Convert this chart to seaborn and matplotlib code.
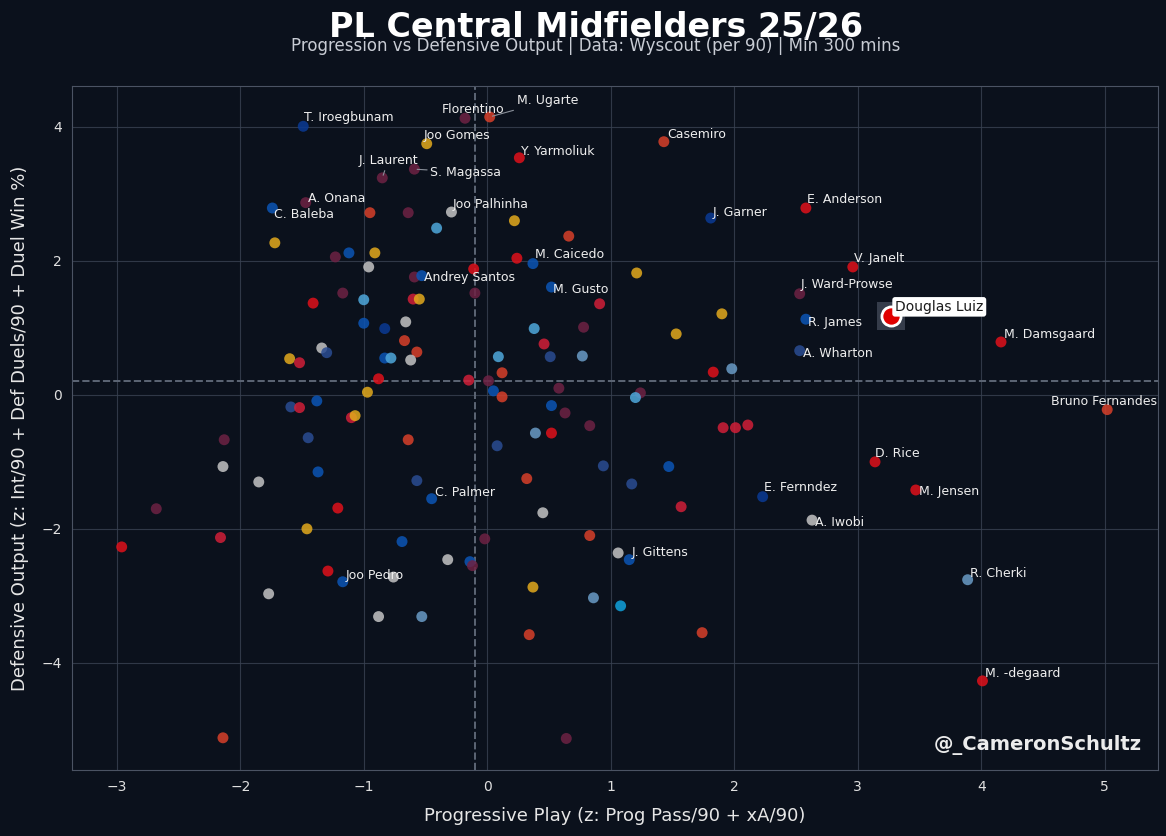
import numpy as np
import pandas as pd
import matplotlib.pyplot as plt
import seaborn as sns

# ---------------------------------------------------------
# DATA
# ---------------------------------------------------------

players = [
    "T. Iroegbunam", "Florentino", "M. Ugarte", "Joo Gomes", "Casemiro", "Y. Yarmoliuk",
    "J. Laurent", "S. Magassa", "A. Onana", "C. Baleba", "", "",
    "Joo Palhinha", "", "", "", "", "",
    "", "", "Andrey Santos", "", "", "",
    "", "", "", "", "", "",
    "", "", "", "", "", "",
    "", "", "", "", "", "M. Caicedo",
    "", "", "", "", "", "M. Gusto",
    "", "J. Garner", "E. Anderson", "J. Ward-Prowse", "", "",
    "R. James", "A. Wharton", "", "", "", "",
    "", "", "", "", "", "",
    "V. Janelt", "M. Damsgaard", "Bruno Fernandes", "", "", "",
    "", "", "", "", "", "",
    "", "", "", "", "", "",
    "", "C. Palmer", "", "", "", "",
    "", "", "", "", "", "",
    "", "Joo Pedro", "", "", "", "",
    "", "", "", "", "", "",
    "", "", "", "", "", "",
    "", "", "", "", "", "",
    "E. Fernndez", "A. Iwobi", "", "", "J. Gittens", "",
    "", "", "", "", "",
    "D. Rice", "M. Jensen", "R. Cherki", "M. -degaard",
]

prog_z = [
    -1.49, -0.18, 0.02, -0.49, 1.43, 0.26,
    -0.85, -0.59, -1.47, -1.74, -0.95, -0.64,
    -0.29, -0.41, -1.72, -1.23, -1.12, -0.91,
    -0.96, -0.59, -0.53, -1.17, -1.41, -1.00,
    -0.60, -0.55, -1.00, -0.83, -0.66, -0.67,
    -0.57, -0.62, -0.83, -0.78, -1.34, -1.30,
    -1.60, -1.52, -0.88, -0.15, 0.24, 0.37,
    -0.11, 0.22, 0.66, 1.21, -0.10, 0.52,
    0.91, 1.81, 2.58, 2.53, 1.90, 1.53,
    2.58, 2.53, 0.38, 0.78, 0.46, 0.09,
    0.51, 0.77, 0.12, 1.83, 1.98, 0.01,
    2.96, 4.16, 5.02, 1.91, 2.01, 2.11,
    -0.97, -1.59, -1.52, -1.38, -1.10, -1.07,
    -2.13, -1.45, -0.64, -2.14, -1.37, -1.85,
    -0.57, -0.45, -2.68, -1.21, -2.96, -2.16,
    -1.46, -0.69, -0.32, -0.14, -0.12, -0.02,
    -1.29, -1.17, -0.76, -1.77, -0.88, -0.53,
    -2.14, 0.05, 0.12, 0.58, 1.24, 1.20,
    0.52, 0.63, 0.83, 0.39, 0.52, 0.08,
    0.94, 1.47, 1.17, 0.32, 1.57, 0.45,
    2.23, 2.63, 0.83, 1.06, 1.15, 0.37,
    0.86, 1.08, 0.34, 1.74, 0.64,
    3.14, 3.47, 3.89, 4.01,
]

def_z = [
    4.01, 4.13, 4.15, 3.75, 3.78, 3.54,
    3.24, 3.37, 2.87, 2.79, 2.72, 2.72,
    2.73, 2.49, 2.27, 2.06, 2.12, 2.12,
    1.91, 1.76, 1.78, 1.52, 1.37, 1.42,
    1.43, 1.43, 1.07, 0.99, 1.09, 0.81,
    0.64, 0.52, 0.55, 0.55, 0.70, 0.63,
    0.54, 0.48, 0.24, 0.22, 2.04, 1.96,
    1.88, 2.60, 2.37, 1.82, 1.52, 1.61,
    1.36, 2.64, 2.79, 1.51, 1.21, 0.91,
    1.13, 0.66, 0.99, 1.01, 0.76, 0.57,
    0.57, 0.58, 0.33, 0.34, 0.39, 0.21,
    1.91, 0.79, -0.22, -0.49, -0.49, -0.45,
    0.04, -0.18, -0.19, -0.09, -0.34, -0.31,
    -0.67, -0.64, -0.67, -1.07, -1.15, -1.30,
    -1.28, -1.55, -1.70, -1.69, -2.27, -2.13,
    -2.00, -2.19, -2.46, -2.49, -2.55, -2.15,
    -2.63, -2.79, -2.72, -2.97, -3.31, -3.31,
    -5.12, 0.06, -0.03, 0.10, 0.03, -0.04,
    -0.16, -0.27, -0.46, -0.57, -0.57, -0.76,
    -1.06, -1.07, -1.33, -1.25, -1.67, -1.76,
    -1.52, -1.87, -2.10, -2.36, -2.46, -2.87,
    -3.03, -3.15, -3.58, -3.55, -5.13,
    -1.00, -1.42, -2.76, -4.27,
]

# club colour group of each dot
club_group = [
    "navy", "claret", "orange", "gold", "orange", "red",
    "claret", "claret", "claret", "royal", "orange", "claret",
    "grey", "sky", "gold", "claret", "royal", "gold",
    "grey", "claret", "royal", "claret", "red", "sky",
    "crimson", "gold", "royal", "navy", "grey", "orange",
    "orange", "grey", "royal", "sky", "grey", "slate",
    "gold", "crimson", "red", "crimson", "red", "royal",
    "red", "gold", "orange", "gold", "claret", "royal",
    "crimson", "navy", "red", "claret", "gold", "gold",
    "royal", "slate", "sky", "claret", "crimson", "sky",
    "slate", "steel", "orange", "red", "steel", "claret",
    "red", "red", "orange", "crimson", "crimson", "crimson",
    "gold", "slate", "crimson", "royal", "crimson", "gold",
    "claret", "slate", "orange", "grey", "royal", "grey",
    "slate", "royal", "claret", "red", "red", "crimson",
    "gold", "royal", "grey", "royal", "claret", "claret",
    "red", "royal", "grey", "grey", "grey", "steel",
    "orange", "royal", "orange", "claret", "claret", "sky",
    "royal", "claret", "claret", "steel", "red", "slate",
    "slate", "royal", "slate", "orange", "crimson", "grey",
    "navy", "grey", "orange", "grey", "royal", "gold",
    "steel", "cyan", "orange", "orange", "claret",
    "red", "red", "steel", "red",
]

club_colours = {
    "red": "#e0101a", "crimson": "#d11f38", "orange": "#d8402a",
    "navy": "#0a3a94", "royal": "#0b55b5", "slate": "#2a4c92",
    "sky": "#4fa8dc", "steel": "#6a9cc6", "cyan": "#10a2dc",
    "gold": "#e3aa1c", "grey": "#c4c4c4", "claret": "#6e2244",
}

highlight_player = "Douglas Luiz"
highlight_xy = (3.27, 1.18)

x_mean = -0.10
y_mean = 0.21

# label placement (pixel offsets from the dot)
label_offsets = {
    "T. Iroegbunam": (1, 9), "Florentino": (-23, 9), "M. Ugarte": (27, 16),
    "Joo Gomes": (-3, 8), "Casemiro": (3, 7), "Y. Yarmoliuk": (2, 6),
    "J. Laurent": (-24, 17), "S. Magassa": (16, -3), "A. Onana": (2, 4),
    "C. Baleba": (2, -6), "Joo Palhinha": (1, 8), "Andrey Santos": (2, -2),
    "M. Caicedo": (2, 9), "M. Gusto": (2, -2), "J. Garner": (2, 6),
    "E. Anderson": (1, 9), "V. Janelt": (1, 8), "J. Ward-Prowse": (1, 9),
    "R. James": (2, -3), "A. Wharton": (3, -3), "M. Damsgaard": (3, 7),
    "Bruno Fernandes": (-56, 8), "D. Rice": (0, 8), "M. Jensen": (3, -2),
    "E. Fernndez": (1, 9), "A. Iwobi": (3, -2), "C. Palmer": (3, 6),
    "J. Gittens": (2, 7), "Joo Pedro": (3, 6), "R. Cherki": (2, 6),
    "M. -degaard": (3, 7),
}
with_leader = ["M. Ugarte", "J. Laurent", "S. Magassa"]

df = pd.DataFrame({"Player": players, "Prog": prog_z, "Def": def_z, "Club": club_group})

# ---------------------------------------------------------
# PLOT
# ---------------------------------------------------------

BG = "#0b111c"
sns.set_style("dark", {
    "axes.facecolor": BG, "figure.facecolor": BG, "axes.edgecolor": "#4b5363",
    "grid.color": "#3a4252", "text.color": "#e6e6e6", "xtick.color": "#e0e0e0",
    "ytick.color": "#e0e0e0", "axes.labelcolor": "#e6e6e6",
})
plt.rcParams["font.family"] = ["DejaVu Sans"]

fig, ax = plt.subplots(figsize=(11.66, 8.36), dpi=100)
fig.subplots_adjust(left=0.062, right=0.993, top=0.897, bottom=0.079)

sns.scatterplot(data=df, x="Prog", y="Def", hue="Club", palette=club_colours,
                s=62, alpha=0.85, linewidth=0, legend=False, ax=ax, zorder=3)

ax.axvline(x_mean, color="#5d6675", linestyle="--", linewidth=1.4, zorder=2)
ax.axhline(y_mean, color="#5d6675", linestyle="--", linewidth=1.4, zorder=2)

# labels
for _, row in df[df["Player"] != ""].iterrows():
    dx, dy = label_offsets.get(row["Player"], (2, 6))
    arrow = None
    if row["Player"] in with_leader:
        arrow = dict(arrowstyle="-", color="#8a909a", lw=0.8, shrinkA=0, shrinkB=2)
    ax.annotate(row["Player"], (row["Prog"], row["Def"]), xytext=(dx, dy),
                textcoords="offset pixels", ha="left", va="center",
                fontsize=9, color="#eeeeee", arrowprops=arrow, zorder=5)

# highlighted player
ax.scatter([highlight_xy[0]], [highlight_xy[1]], marker="s", s=420,
           color="#3a4150", alpha=0.9, zorder=4, linewidth=0)
ax.scatter([highlight_xy[0]], [highlight_xy[1]], s=190, color="#e00000",
           edgecolor="white", linewidth=2, zorder=6)
ax.annotate(highlight_player, highlight_xy, xytext=(4, 9), textcoords="offset pixels",
            ha="left", va="center", fontsize=10, color="#1a1a1a", zorder=7,
            bbox=dict(boxstyle="round,pad=0.2", fc="white", ec="none"))

ax.set_xlim(-3.36, 5.43)
ax.set_ylim(-5.6, 4.61)
ax.set_xticks(range(-3, 6))
ax.set_yticks([-4, -2, 0, 2, 4])
ax.grid(True, color="#3a4252", linewidth=0.8, alpha=0.8)
ax.tick_params(axis="both", labelsize=10, length=4, colors="#e0e0e0")
for sp in ax.spines.values():
    sp.set_color("#4b5363")

ax.set_xlabel("Progressive Play (z: Prog Pass/90 + xA/90)", fontsize=13, labelpad=9)
ax.set_ylabel("Defensive Output (z: Int/90 + Def Duels/90 + Duel Win %)", fontsize=13, labelpad=9)

ax.text(0.985, 0.022, "@_CameronSchultz", transform=ax.transAxes, ha="right",
        va="bottom", fontsize=14, fontweight="bold", color="#ececec", zorder=8)

fig.text(0.511, 0.956, "PL Central Midfielders 25/26", ha="center", va="baseline",
         fontsize=24, fontweight="bold", color="white")
fig.text(0.511, 0.945, "Progression vs Defensive Output | Data: Wyscout (per 90) | Min 300 mins",
         ha="center", va="center", fontsize=12, color="#c8ccd4")

plt.savefig("out.png", dpi=100, facecolor=BG)
